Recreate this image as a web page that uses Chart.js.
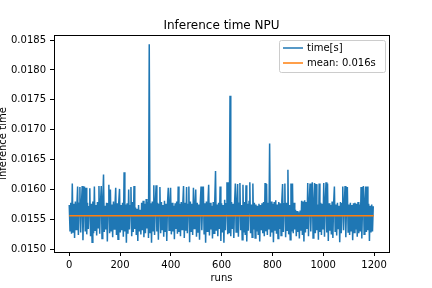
<!DOCTYPE html>
<html>
<head>
<meta charset="utf-8">
<script src="https://cdn.jsdelivr.net/npm/chart.js@4/dist/chart.umd.min.js"></script>
<style>
  html, body { margin: 0; padding: 0; background: #fff; }
  #wrap { width: 432px; height: 288px; }
</style>
</head>
<body>
<div id="wrap"><canvas id="chart" width="432" height="288"></canvas></div>
<script>
// one sample for every 3 runs
const runStep = 3;
const times = [
    0.01574, 0.01531, 0.01578, 0.01526, 0.01610, 0.01529, 0.01576, 0.01519, 0.01580, 0.01533,
    0.01572, 0.01605, 0.01524, 0.01577, 0.01604, 0.01528, 0.01575, 0.01606, 0.01515, 0.01579,
    0.01605, 0.01530, 0.01603, 0.01525, 0.01578, 0.01534, 0.01571, 0.01602, 0.01522, 0.01576,
    0.01512, 0.01580, 0.01527, 0.01605, 0.01532, 0.01574, 0.01523, 0.01579, 0.01536, 0.01606,
    0.01526, 0.01577, 0.01606, 0.01518, 0.01581, 0.01625, 0.01529, 0.01573, 0.01533, 0.01578,
    0.01513, 0.01576, 0.01608, 0.01527, 0.01600, 0.01531, 0.01575, 0.01520, 0.01580, 0.01534,
    0.01572, 0.01603, 0.01524, 0.01577, 0.01517, 0.01579, 0.01601, 0.01528, 0.01574, 0.01532,
    0.01578, 0.01521, 0.01629, 0.01530, 0.01575, 0.01511, 0.01577, 0.01526, 0.01600, 0.01533,
    0.01573, 0.01604, 0.01522, 0.01579, 0.01529, 0.01606, 0.01534, 0.01570, 0.01524, 0.01568,
    0.01514, 0.01574, 0.01530, 0.01566, 0.01525, 0.01578, 0.01532, 0.01581, 0.01520, 0.01576,
    0.01527, 0.01584, 0.01535, 0.01579, 0.01519, 0.01843, 0.01528, 0.01577, 0.01511, 0.01580,
    0.01531, 0.01607, 0.01524, 0.01576, 0.01607, 0.01530, 0.01578, 0.01516, 0.01575, 0.01604,
    0.01527, 0.01579, 0.01533, 0.01574, 0.01521, 0.01581, 0.01529, 0.01576, 0.01514, 0.01578,
    0.01603, 0.01532, 0.01575, 0.01603, 0.01525, 0.01578, 0.01530, 0.01573, 0.01517, 0.01577,
    0.01534, 0.01580, 0.01526, 0.01605, 0.01529, 0.01576, 0.01522, 0.01579, 0.01533, 0.01574,
    0.01606, 0.01519, 0.01578, 0.01531, 0.01604, 0.01527, 0.01575, 0.01605, 0.01512, 0.01580,
    0.01530, 0.01576, 0.01524, 0.01603, 0.01535, 0.01572, 0.01600, 0.01521, 0.01578, 0.01529,
    0.01575, 0.01516, 0.01579, 0.01605, 0.01532, 0.01574, 0.01605, 0.01526, 0.01577, 0.01511,
    0.01580, 0.01530, 0.01576, 0.01608, 0.01523, 0.01578, 0.01533, 0.01573, 0.01518, 0.01579,
    0.01527, 0.01581, 0.01631, 0.01531, 0.01575, 0.01522, 0.01578, 0.01534, 0.01605, 0.01514,
    0.01577, 0.01528, 0.01574, 0.01511, 0.01583, 0.01532, 0.01576, 0.01612, 0.01525, 0.01612,
    0.01527, 0.01757, 0.01522, 0.01579, 0.01534, 0.01576, 0.01519, 0.01578, 0.01610, 0.01529,
    0.01575, 0.01609, 0.01521, 0.01577, 0.01611, 0.01532, 0.01574, 0.01516, 0.01608, 0.01528,
    0.01579, 0.01524, 0.01607, 0.01513, 0.01576, 0.01531, 0.01580, 0.01612, 0.01527, 0.01575,
    0.01520, 0.01610, 0.01533, 0.01578, 0.01519, 0.01575, 0.01530, 0.01573, 0.01525, 0.01576,
    0.01513, 0.01574, 0.01532, 0.01577, 0.01527, 0.01579, 0.01522, 0.01611, 0.01530, 0.01609,
    0.01524, 0.01578, 0.01533, 0.01677, 0.01521, 0.01580, 0.01528, 0.01576, 0.01512, 0.01579,
    0.01531, 0.01582, 0.01526, 0.01575, 0.01518, 0.01579, 0.01534, 0.01577, 0.01523, 0.01581,
    0.01609, 0.01529, 0.01576, 0.01610, 0.01520, 0.01578, 0.01532, 0.01633, 0.01525, 0.01574,
    0.01516, 0.01610, 0.01530, 0.01610, 0.01527, 0.01578, 0.01533, 0.01566, 0.01522, 0.01564,
    0.01529, 0.01562, 0.01518, 0.01565, 0.01531, 0.01581, 0.01524, 0.01580, 0.01513, 0.01582,
    0.01528, 0.01579, 0.01534, 0.01611, 0.01522, 0.01578, 0.01610, 0.01530, 0.01576, 0.01612,
    0.01519, 0.01577, 0.01611, 0.01527, 0.01609, 0.01532, 0.01575, 0.01516, 0.01610, 0.01529,
    0.01578, 0.01524, 0.01576, 0.01533, 0.01611, 0.01521, 0.01579, 0.01612, 0.01528, 0.01610,
    0.01514, 0.01577, 0.01531, 0.01574, 0.01525, 0.01580, 0.01519, 0.01576, 0.01605, 0.01530,
    0.01575, 0.01523, 0.01578, 0.01535, 0.01573, 0.01512, 0.01579, 0.01527, 0.01576, 0.01605,
    0.01532, 0.01577, 0.01606, 0.01520, 0.01580, 0.01604, 0.01529, 0.01575, 0.01524, 0.01578,
    0.01531, 0.01574, 0.01515, 0.01577, 0.01528, 0.01578, 0.01533, 0.01576, 0.01521, 0.01579,
    0.01527, 0.01575, 0.01530, 0.01604, 0.01518, 0.01577, 0.01606, 0.01525, 0.01579, 0.01605,
    0.01529, 0.01605, 0.01532, 0.01576, 0.01514, 0.01573, 0.01528, 0.01575, 0.01530, 0.01572
];
const meanTime = 0.01556;
const lastRun = 1199;
const xTicks = [0, 200, 400, 600, 800, 1000, 1200];
const yTicks = [0.0150, 0.0155, 0.0160, 0.0165, 0.0170, 0.0175, 0.0180, 0.0185];

const FONT = "'DejaVu Sans', sans-serif";

/**
 * titles, y label, full frame and legend, drawn the matplotlib way
 */
const decorations = {
    id: 'decorations',
    afterDraw(chart) {
        const ctx = chart.ctx;
        const a = chart.chartArea;
        ctx.save();

        // frame
        ctx.strokeStyle = '#000';
        ctx.lineWidth = 1;
        ctx.strokeRect(Math.round(a.left) + 0.5, Math.round(a.top) + 0.5,
            Math.round(a.right - a.left), Math.round(a.bottom - a.top));

        ctx.fillStyle = '#000';
        ctx.textAlign = 'center';
        ctx.textBaseline = 'alphabetic';
        ctx.font = '12px ' + FONT;
        ctx.fillText('Inference time NPU', (a.left + a.right) / 2, 29);

        ctx.font = '10px ' + FONT;
        ctx.fillText('runs', (a.left + a.right) / 2, 281);

        ctx.translate(6, (a.top + a.bottom) / 2);
        ctx.rotate(-Math.PI / 2);
        ctx.fillText('inference time', 0, 0);
        ctx.setTransform(1, 0, 0, 1, 0, 0);

        // legend box
        const bx = 279.5, by = 40.5, bw = 106, bh = 32, r = 2;
        ctx.beginPath();
        ctx.moveTo(bx + r, by);
        ctx.arcTo(bx + bw, by, bx + bw, by + bh, r);
        ctx.arcTo(bx + bw, by + bh, bx, by + bh, r);
        ctx.arcTo(bx, by + bh, bx, by, r);
        ctx.arcTo(bx, by, bx + bw, by, r);
        ctx.closePath();
        ctx.fillStyle = 'rgba(255,255,255,0.8)';
        ctx.fill();
        ctx.strokeStyle = '#cccccc';
        ctx.stroke();

        ctx.textAlign = 'left';
        ctx.textBaseline = 'middle';
        chart.data.datasets.forEach((ds, i) => {
            const ly = 48 + i * 15;
            ctx.strokeStyle = ds.borderColor;
            ctx.lineWidth = 1.5;
            ctx.beginPath();
            ctx.moveTo(283, ly);
            ctx.lineTo(303, ly);
            ctx.stroke();
            ctx.fillStyle = '#000';
            ctx.fillText(ds.label, 307, ly);
        });
        ctx.restore();
    }
};

const ctx = document.getElementById('chart').getContext('2d');
new Chart(ctx, {
    type: 'line',
    data: {
        datasets: [
            {
                label: 'time[s]',
                data: times.map((t, i) => ({ x: i * runStep, y: t })),
                borderColor: '#1f77b4',
                borderWidth: 1.5,
                pointRadius: 0,
                tension: 0,
                order: 2
            },
            {
                label: 'mean: 0.016s',
                data: [{ x: 0, y: meanTime }, { x: lastRun, y: meanTime }],
                borderColor: '#ff7f0e',
                borderWidth: 1.5,
                pointRadius: 0,
                order: 1
            }
        ]
    },
    options: {
        responsive: false,
        animation: false,
        events: [],
        layout: { padding: { top: 35, right: 43, left: 0, bottom: 0 } },
        plugins: {
            legend: { display: false },
            title: { display: false },
            tooltip: { enabled: false }
        },
        scales: {
            x: {
                type: 'linear',
                min: -60,
                max: 1259,
                afterBuildTicks: s => { s.ticks = xTicks.map(v => ({ value: v })); },
                afterFit: s => { s.height = 36; },
                grid: { drawOnChartArea: false, drawTicks: true, tickLength: 4, color: '#000' },
                border: { display: true, color: '#000' },
                ticks: {
                    color: '#000', font: { family: FONT, size: 10 }, padding: 3, maxRotation: 0,
                    callback: v => String(v)
                }
            },
            y: {
                type: 'linear',
                min: 0.014955,
                max: 0.018584,
                afterBuildTicks: s => { s.ticks = yTicks.map(v => ({ value: v })); },
                afterFit: s => { s.width = 54; },
                grid: { drawOnChartArea: false, drawTicks: true, tickLength: 4, color: '#000' },
                border: { display: true, color: '#000' },
                ticks: {
                    color: '#000', font: { family: FONT, size: 10 }, padding: 4,
                    callback: v => v.toFixed(4)
                }
            }
        }
    },
    plugins: [decorations]
});
</script>
</body>
</html>
